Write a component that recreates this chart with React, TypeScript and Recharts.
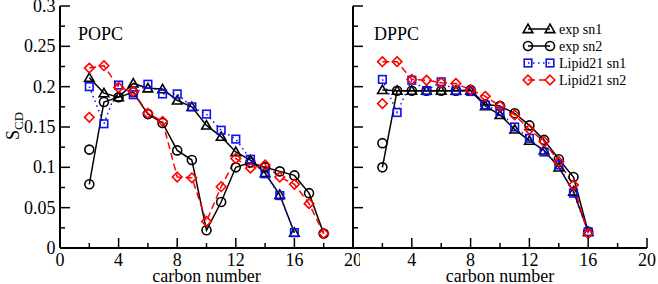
import React from "react"
import { LineChart, Line, XAxis, YAxis, Legend } from "recharts"

const font = "Liberation Serif, Times New Roman, Times, DejaVu Serif, serif"

// carbon numbers along each chain
const palmitoylCarbons = [2, 3, 4, 5, 6, 7, 8, 9, 10, 11, 12, 13, 14, 15, 16]
const oleoylCarbons = [2, 3, 4, 5, 6, 7, 8, 9, 10, 11, 12, 13, 14, 15, 16, 17, 18]

// POPC order parameters
const popcExpSn1 = [0.211, 0.192, 0.187, 0.204, 0.198, 0.197, 0.183, 0.175, 0.152, 0.138, 0.119, 0.109, 0.093, 0.066, 0.019]
const popcExpSn2 = [0.079, 0.181, 0.187, 0.193, 0.166, 0.155, 0.121, 0.109, 0.022, 0.057, 0.1, 0.106, 0.1, 0.095, 0.09, 0.068, 0.018]
const popcLipidSn1 = [0.2, 0.154, 0.202, 0.19, 0.203, 0.191, 0.191, 0.175, 0.166, 0.146, 0.135, 0.11, 0.092, 0.065, 0.019]
const popcLipidSn2 = [0.223, 0.226, 0.199, 0.194, 0.167, 0.157, 0.088, 0.087, 0.033, 0.076, 0.111, 0.099, 0.103, 0.088, 0.079, 0.055, 0.018]
// second (split) C2 value
const popcExpSn2C2 = 0.122
const popcLipidSn2C2 = 0.162

// DPPC order parameters
const dppcExpSn1 = [0.196, 0.195, 0.195, 0.195, 0.195, 0.195, 0.195, 0.176, 0.165, 0.147, 0.133, 0.121, 0.1, 0.07, 0.02]
const dppcExpSn2 = [0.1, 0.195, 0.195, 0.195, 0.195, 0.195, 0.196, 0.178, 0.176, 0.167, 0.152, 0.134, 0.11, 0.088, 0.02]
const dppcLipidSn1 = [0.209, 0.168, 0.208, 0.195, 0.206, 0.195, 0.194, 0.177, 0.169, 0.15, 0.136, 0.119, 0.103, 0.068, 0.02]
const dppcLipidSn2 = [0.231, 0.231, 0.209, 0.208, 0.205, 0.204, 0.196, 0.188, 0.176, 0.165, 0.147, 0.132, 0.107, 0.078, 0.018]
const dppcExpSn2C2 = 0.13
const dppcLipidSn2C2 = 0.179

const xTicks = [0, 2, 4, 6, 8, 10, 12, 14, 16, 18, 20]
const yTicks = [0, 0.025, 0.05, 0.075, 0.1, 0.125, 0.15, 0.175, 0.2, 0.225, 0.25, 0.275, 0.3]

const toPoints = (cs: number[], vs: number[]) => cs.map((c, i) => ({ c, s: vs[i] }))

type Shape = "triangle" | "circle" | "square" | "diamond"

const seriesStyle = [
  { name: "exp sn1", shape: "triangle" as Shape, color: "#000000", dash: undefined },
  { name: "exp sn2", shape: "circle" as Shape, color: "#000000", dash: undefined },
  { name: "Lipid21 sn1", shape: "square" as Shape, color: "#1010f0", dash: "1.5 3.5" },
  { name: "Lipid21 sn2", shape: "diamond" as Shape, color: "#ff0000", dash: "7 4" },
]

const Marker = ({ shape, cx, cy, color }: { shape: Shape; cx: number; cy: number; color: string }) => {
  const sw = 1.6
  if (shape === "triangle")
    return <polygon points={`${cx},${cy - 4.8} ${cx - 4.8},${cy + 3.6} ${cx + 4.8},${cy + 3.6}`} fill="none" stroke={color} strokeWidth={sw} />
  if (shape === "circle") return <circle cx={cx} cy={cy} r={4.5} fill="none" stroke={color} strokeWidth={sw} />
  if (shape === "square") return <rect x={cx - 3.8} y={cy - 3.8} width={7.6} height={7.6} fill="none" stroke={color} strokeWidth={sw} />
  return <polygon points={`${cx},${cy - 4.8} ${cx + 4.8},${cy} ${cx},${cy + 4.8} ${cx - 4.8},${cy}`} fill="none" stroke={color} strokeWidth={sw} />
}

const isMajorX = (v: number) => v % 4 === 0
const isMajorY = (v: number) => Math.round(v * 1000) % 50 === 0

const BottomTick = (p: any, first: boolean) => {
  const v = p.payload.value
  const major = isMajorX(v)
  // the right panel leaves its 0 to the left panel's 20
  const showLabel = major && (first || v !== 0)
  return (
    <g>
      <line x1={p.x} x2={p.x} y1={p.y} y2={p.y - (major ? 10 : 5)} stroke="#000" strokeWidth={1.5} />
      {showLabel && (
        <text x={p.x} y={p.y + 18} textAnchor="middle" fontSize={18} style={{ fontFamily: font }} fill="#000">
          {v}
        </text>
      )}
    </g>
  )
}

const TopTick = (p: any) => {
  const major = isMajorX(p.payload.value)
  return <line x1={p.x} x2={p.x} y1={p.y} y2={p.y + (major ? 10 : 5)} stroke="#000" strokeWidth={1.5} />
}

const LeftTick = (p: any, labels: boolean) => {
  const v = p.payload.value
  const major = isMajorY(v)
  return (
    <g>
      <line x1={p.x} x2={p.x + (major ? 10 : 5)} y1={p.y} y2={p.y} stroke="#000" strokeWidth={1.5} />
      {labels && major && (
        <text x={p.x - 4.5} y={p.y + 6} textAnchor="end" fontSize={18} style={{ fontFamily: font }} fill="#000">
          {String(v)}
        </text>
      )}
    </g>
  )
}

const RightTick = (p: any) => {
  const major = isMajorY(p.payload.value)
  return <line x1={p.x} x2={p.x - (major ? 10 : 5)} y1={p.y} y2={p.y} stroke="#000" strokeWidth={1.5} />
}

const LegendBox = () => (
  <svg width={120} height={72}>
    {seriesStyle.map((s, i) => {
      const y = 11 + i * 17
      return (
        <g key={s.name}>
          <line x1={8} x2={30} y1={y} y2={y} stroke={s.color} strokeWidth={1.5} strokeDasharray={s.dash} />
          <Marker shape={s.shape} cx={8} cy={y} color={s.color} />
          <Marker shape={s.shape} cx={30} cy={y} color={s.color} />
          <text x={39} y={y + 5} fontSize={14} style={{ fontFamily: font }} fill="#000">
            {s.name}
          </text>
        </g>
      )
    })}
  </svg>
)

type PanelProps = {
  title: string
  lines: { c: number; s: number }[][]
  extras: { idx: number; pt: { c: number; s: number } }[]
  first: boolean
}

const axisStroke = { stroke: "#000", strokeWidth: 2 }

const Panel = ({ title, lines, extras, first }: PanelProps) => (
  <div style={{ position: "absolute", left: first ? 0 : 340, top: 0 }}>
    <LineChart width={first ? 360 : 318} height={284} margin={{ top: 6, right: first ? 7 : 11, bottom: 0, left: 0 }}>
      <XAxis
        dataKey="c"
        type="number"
        domain={[0, 20]}
        ticks={xTicks}
        interval={0}
        height={36}
        tickLine={false}
        tickSize={0}
        tickMargin={0}
        axisLine={axisStroke}
        tick={(p: any) => BottomTick(p, first)}
        label={{ value: "carbon number", position: "insideBottom", offset: 2, fontSize: 18, fill: "#000", style: { fontFamily: font } }}
      />
      <XAxis
        xAxisId="top"
        orientation="top"
        dataKey="c"
        type="number"
        domain={[0, 20]}
        ticks={xTicks}
        interval={0}
        height={0}
        tickLine={false}
        tickSize={0}
        tickMargin={0}
        axisLine={axisStroke}
        tick={TopTick}
      />
      <YAxis
        type="number"
        domain={[0, 0.3]}
        ticks={yTicks}
        interval={0}
        width={first ? 60 : 13}
        tickLine={false}
        tickSize={0}
        tickMargin={0}
        axisLine={axisStroke}
        tick={(p: any) => LeftTick(p, first)}
      />
      <YAxis
        yAxisId="r"
        orientation="right"
        type="number"
        domain={[0, 0.3]}
        ticks={yTicks}
        interval={0}
        width={0}
        tickLine={false}
        tickSize={0}
        tickMargin={0}
        axisLine={axisStroke}
        tick={RightTick}
      />
      {lines.map((pts, i) => {
        const st = seriesStyle[i]
        return (
          <Line
            key={st.name}
            data={pts}
            dataKey="s"
            type="linear"
            stroke={st.color}
            strokeWidth={1.5}
            strokeDasharray={st.dash}
            dot={(p: any) => <Marker key={p.index} shape={st.shape} cx={p.cx} cy={p.cy} color={st.color} />}
            activeDot={false}
            isAnimationActive={false}
          />
        )
      })}
      {extras.map(({ idx, pt }) => {
        const st = seriesStyle[idx]
        return (
          <Line
            key={st.name + "-c2"}
            data={[pt]}
            dataKey="s"
            stroke="none"
            dot={(p: any) => <Marker key={p.index} shape={st.shape} cx={p.cx} cy={p.cy} color={st.color} />}
            activeDot={false}
            legendType="none"
            isAnimationActive={false}
          />
        )
      })}
      <text x={first ? 78 : 34} y={40} fontSize={18} style={{ fontFamily: font }} fill="#000">
        {title}
      </text>
      {first && (
        <text transform="rotate(-90, 19, 126)" x={19} y={126} textAnchor="middle" fontSize={18} style={{ fontFamily: font }} fill="#000">
          S<tspan fontSize={13} dy={4}>CD</tspan>
        </text>
      )}
      {!first && (
        <Legend
          content={LegendBox}
          layout="vertical"
          align="center"
          verticalAlign="middle"
          wrapperStyle={{ position: "absolute", left: 180, top: 18, width: 120 }}
        />
      )}
    </LineChart>
  </div>
)

export default function App() {
  return (
    <div style={{ position: "absolute", left: 0, top: 0, width: 658, height: 284, background: "#fff" }}>
      <Panel
        title="POPC"
        first={true}
        lines={[
          toPoints(palmitoylCarbons, popcExpSn1),
          toPoints(oleoylCarbons, popcExpSn2),
          toPoints(palmitoylCarbons, popcLipidSn1),
          toPoints(oleoylCarbons, popcLipidSn2),
        ]}
        extras={[
          { idx: 1, pt: { c: 2, s: popcExpSn2C2 } },
          { idx: 3, pt: { c: 2, s: popcLipidSn2C2 } },
        ]}
      />
      <Panel
        title="DPPC"
        first={false}
        lines={[
          toPoints(palmitoylCarbons, dppcExpSn1),
          toPoints(palmitoylCarbons, dppcExpSn2),
          toPoints(palmitoylCarbons, dppcLipidSn1),
          toPoints(palmitoylCarbons, dppcLipidSn2),
        ]}
        extras={[
          { idx: 1, pt: { c: 2, s: dppcExpSn2C2 } },
          { idx: 3, pt: { c: 2, s: dppcLipidSn2C2 } },
        ]}
      />
    </div>
  )
}
